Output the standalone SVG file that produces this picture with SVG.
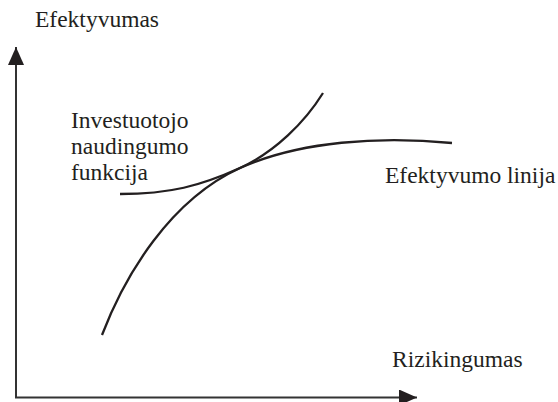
<svg xmlns="http://www.w3.org/2000/svg" width="558" height="402" viewBox="0 0 558 402">
<style>
text{font-size:23.5px;fill:#231f20}
.ax{stroke:#333;stroke-width:2;fill:none}
.cv{stroke:#231f20;stroke-width:2.3;fill:none}
</style>
<defs>
<marker id="ar" viewBox="0 0 18 16" refX="18" refY="8" markerWidth="18" markerHeight="16" markerUnits="userSpaceOnUse" orient="auto">
<path d="M0,0 L18,8 L0,16 z" fill="#231f20"/>
</marker>
</defs>
<g id="axes">
<path class="ax" d="M16,398 L16,47" marker-end="url(#ar)"/>
<path class="ax" d="M15,397.5 L417,397.5" marker-end="url(#ar)"/>
</g>
<g id="frontier">
<path class="cv" d="M102,335 C125,275 170,200 240,168 C300,141 380,136 452,143"/>
</g>
<g id="indifference">
<path class="cv" d="M120,194 C170,194 200,186 240,168 C275,152 305,122 323,93"/>
</g>
<g id="labels" font-family="Liberation Serif, serif">
<text x="35" y="27">Efektyvumas</text>
<text x="71" y="128">Investuotojo</text>
<text x="71" y="153.5">naudingumo</text>
<text x="71" y="180">funkcija</text>
<text x="385" y="183">Efektyvumo linija</text>
<text x="392" y="367">Rizikingumas</text>
</g>
</svg>
